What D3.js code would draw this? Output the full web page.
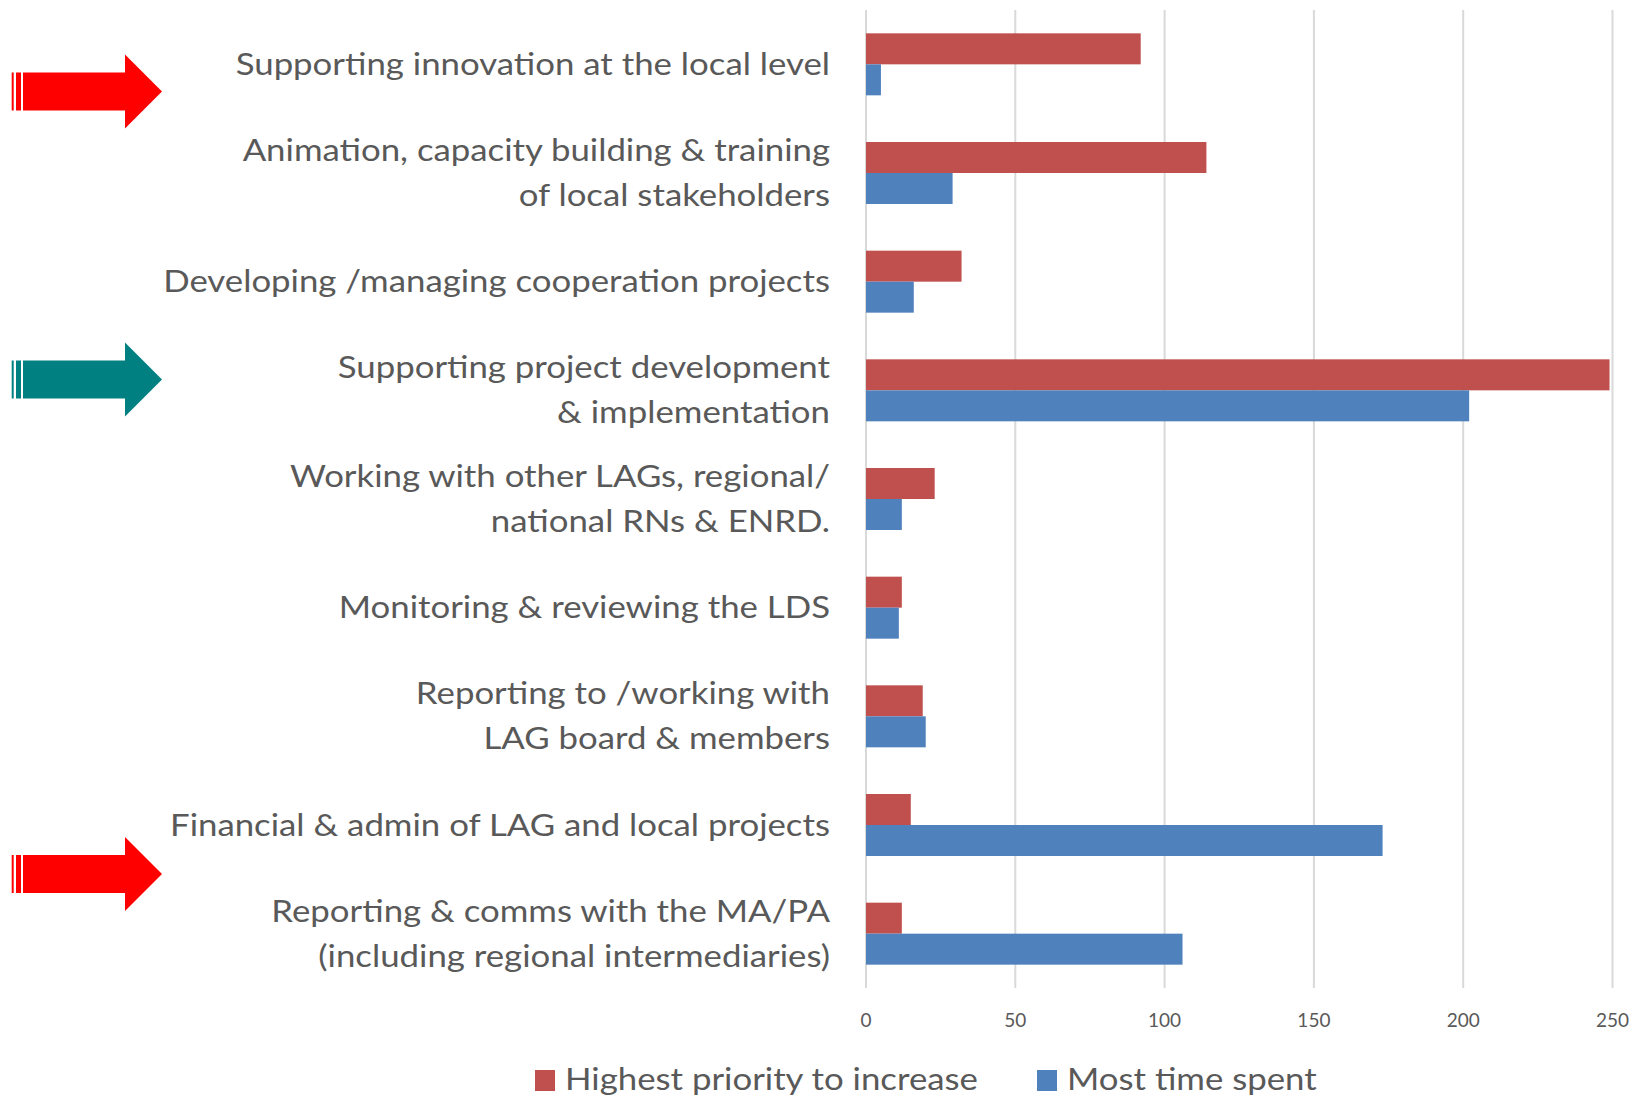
<!DOCTYPE html>
<html lang="en">
<head>
  <meta charset="utf-8">
  <script src="https://d3js.org/d3.v7.min.js"></script>
  <style>
    body { margin: 0; background: #fff; }
    svg { display: block; }
    .cat, .tick-label, .legend text {
      font-family: "Lato", "Open Sans", sans-serif;
      fill: #595959;
    }
    .grid line { stroke: #d9d9d9; stroke-width: 2; }
  </style>
</head>
<body>
  <svg id="chart" width="1633" height="1100"></svg>
  <script>
    // chart values
    var categories = [
      ["Supporting innovation at the local level"],
      ["Animation, capacity building & training", "of local stakeholders"],
      ["Developing /managing cooperation projects"],
      ["Supporting project development", "& implementation"],
      ["Working with other LAGs, regional/", "national RNs & ENRD."],
      ["Monitoring & reviewing the LDS"],
      ["Reporting to /working with", "LAG board & members"],
      ["Financial & admin of LAG and local projects"],
      ["Reporting & comms with the MA/PA", "(including regional intermediaries)"]
    ];
    var highestPriority = [92, 114, 32, 249, 23, 12, 19, 15, 12];
    var mostTimeSpent = [5, 29, 16, 202, 12, 11, 20, 173, 106];
    var tickValues = [0, 50, 100, 150, 200, 250];
    var seriesNames = ["Highest priority to increase", "Most time spent"];
    var seriesColors = ["#c0504d", "#4f81bd"];
    // arrows: row position they sit at, and colour
    var arrowRows = [0.25, 2.9, 7.45];
    var arrowColors = ["#ff0000", "#008080", "#ff0000"];

    var svg = d3.select("#chart");

    // the source text is a bit wide, stretch it sideways
    var stretch = 1.16;

    var x = d3.scaleLinear()
        .domain([0, 250])
        .range([866, 1612.5]);

    var y = d3.scaleBand()
        .domain(d3.range(categories.length))
        .range([10, 988]);

    var barH = 31;

    // gridlines
    svg.append("g")
        .attr("class", "grid")
        .selectAll("line")
        .data(tickValues)
      .enter().append("line")
        .attr("x1", function(d) { return x(d); })
        .attr("x2", function(d) { return x(d); })
        .attr("y1", 10)
        .attr("y2", 988);

    // tick labels
    svg.append("g")
        .selectAll("text")
        .data(tickValues)
      .enter().append("text")
        .attr("class", "tick-label")
        .attr("x", function(d) { return x(d); })
        .attr("y", 1027)
        .attr("text-anchor", "middle")
        .style("font-size", "19px")
        .text(function(d) { return d; });

    // bars
    var rows = svg.append("g")
        .selectAll("g")
        .data(d3.range(categories.length))
      .enter().append("g")
        .attr("transform", function(i) {
          return "translate(0," + (y(i) + y.bandwidth() / 2) + ")";
        });

    rows.append("rect")
        .attr("x", x(0))
        .attr("y", -barH)
        .attr("height", barH)
        .attr("width", function(i) { return x(highestPriority[i]) - x(0); })
        .attr("fill", seriesColors[0]);

    rows.append("rect")
        .attr("x", x(0))
        .attr("y", 0)
        .attr("height", barH)
        .attr("width", function(i) { return x(mostTimeSpent[i]) - x(0); })
        .attr("fill", seriesColors[1]);

    // category labels
    var lineH = 45;
    rows.append("text")
        .attr("class", "cat")
        .attr("text-anchor", "end")
        .attr("transform", "translate(830,0) scale(" + stretch + ",1)")
        .style("font-size", "30px")
        .each(function(i) {
          var lines = categories[i];
          var t = d3.select(this);
          lines.forEach(function(l, k) {
            t.append("tspan")
              .attr("x", 0)
              .attr("y", (k - (lines.length - 1) / 2) * lineH)
              .attr("dy", "0.35em")
              .text(l);
          });
        });

    // arrows
    function arrowPath(cy) {
      var p = d3.path();
      p.moveTo(23, cy - 19);
      p.lineTo(125, cy - 19);
      p.lineTo(125, cy - 37);
      p.lineTo(162, cy);
      p.lineTo(125, cy + 37);
      p.lineTo(125, cy + 19);
      p.lineTo(23, cy + 19);
      p.closePath();
      p.rect(16, cy - 19, 5, 38);
      p.rect(11.7, cy - 19, 2, 38);
      return p.toString();
    }

    svg.append("g")
        .selectAll("path")
        .data(arrowRows)
      .enter().append("path")
        .attr("d", function(r) { return arrowPath(y(0) + y.step() * r + y.bandwidth() / 2); })
        .attr("fill", function(r, i) { return arrowColors[i]; });

    // legend
    var legendX = [535, 1037];
    var legend = svg.append("g")
        .attr("class", "legend")
        .selectAll("g")
        .data(seriesNames)
      .enter().append("g")
        .attr("transform", function(d, i) { return "translate(" + legendX[i] + ",1070)"; });

    legend.append("rect")
        .attr("width", 20)
        .attr("height", 21)
        .attr("fill", function(d, i) { return seriesColors[i]; });

    legend.append("text")
        .attr("transform", "translate(30,20) scale(" + stretch + ",1)")
        .style("font-size", "30px")
        .text(function(d) { return d; });
  </script>
</body>
</html>
